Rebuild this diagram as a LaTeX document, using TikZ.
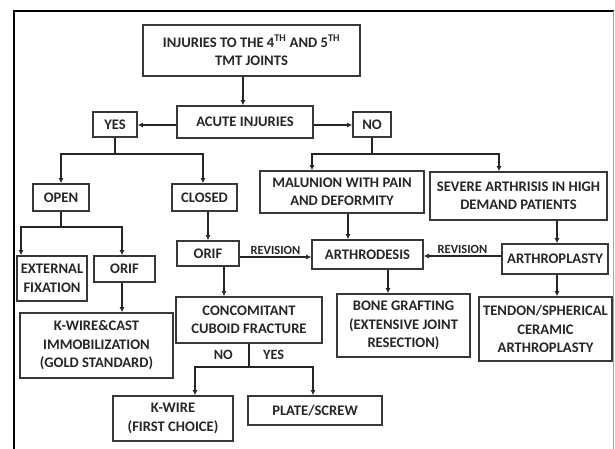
\documentclass[tikz,border=0pt]{standalone}
\usepackage{fontspec}
\setmainfont{Carlito}
\usetikzlibrary{arrows.meta}
\begin{document}
\begin{tikzpicture}[
        x=1pt, y=-1pt,
        boxn/.style={draw=black!78, line width=1.6pt, align=center, inner sep=0pt, text=black!85, font=\bfseries\fontsize{14.6}{18.5}\selectfont},
        labn/.style={text=black!85, inner sep=0pt, font=\bfseries\fontsize{14.2}{16}\selectfont},
        revn/.style={text=black!85, inner sep=2pt, font=\bfseries\fontsize{12.5}{14}\selectfont},
        arr/.style={draw=black!85, line width=1.5pt, -{Latex[length=5pt,width=5pt]}},
    ]
    \useasboundingbox (0,0) rectangle (615,449);
    % frame
    \draw[line width=2.5pt] (14,449) -- (14,11) -- (614,11);
    \draw[black!35, line width=0.8pt] (613,11) -- (613,449);

    \node[boxn, minimum width=217pt, minimum height=51pt](title) at (251.5,50.5) {INJURIES TO THE 4\textsuperscript{TH} AND 5\textsuperscript{TH}\\TMT JOINTS};
    \node[boxn, minimum width=136pt, minimum height=32pt](acute) at (245,122) {ACUTE INJURIES};
    \node[boxn, minimum width=44pt, minimum height=25pt](yes) at (115,124.5) {YES};
    \node[boxn, minimum width=38pt, minimum height=25pt](no) at (372,124.5) {NO};
    \node[boxn, minimum width=56pt, minimum height=27pt](open) at (61,197.5) {OPEN};
    \node[boxn, minimum width=65pt, minimum height=27pt](closed) at (204.5,197.5) {CLOSED};
    \node[boxn, minimum width=164pt, minimum height=42pt](malunion) at (342,192) {MALUNION WITH PAIN\\AND DEFORMITY};
    \node[boxn, minimum width=177pt, minimum height=48pt](severe) at (518.5,196) {SEVERE ARTHRISIS IN HIGH\\DEMAND PATIENTS};
    \node[boxn, minimum width=70pt, minimum height=45pt](extfix) at (52,278.5) {EXTERNAL\\FIXATION};
    \node[boxn, minimum width=61pt, minimum height=26pt](orifl) at (124.5,269) {ORIF};
    \node[boxn, minimum width=153pt, minimum height=65pt](kwirecast) at (96.5,345.5) {K-WIRE\&CAST\\IMMOBILIZATION\\(GOLD STANDARD)};
    \node[boxn, minimum width=62pt, minimum height=25pt](orifm) at (208,253.5) {ORIF};
    \node[boxn, minimum width=146pt, minimum height=46pt](concom) at (249,320) {CONCOMITANT\\CUBOID FRACTURE};
    \node[boxn, minimum width=111pt, minimum height=29pt](arthrodesis) at (367.5,254.5) {ARTHRODESIS};
    \node[boxn, minimum width=106pt, minimum height=30pt](arthroplasty) at (555,259) {ARTHROPLASTY};
    \node[boxn, minimum width=133pt, minimum height=63pt](bonegraft) at (403.5,325.5) {BONE GRAFTING\\(EXTENSIVE JOINT\\RESECTION)};
    \node[boxn, minimum width=133pt, minimum height=64pt](tendon) at (545.5,329) {TENDON/SPHERICAL\\CERAMIC\\ARTHROPLASTY};
    \node[boxn, minimum width=120pt, minimum height=45pt](kwire) at (173,418.5) {K-WIRE\\(FIRST CHOICE)};
    \node[boxn, minimum width=134pt, minimum height=29pt](plate) at (315,410.5) {PLATE/SCREW};

    % top of the tree
    \draw[arr] (title.south -| 243,0) -- (acute.north -| 243,0);
    \draw[arr] (acute.west |- 0,125) -- (yes.east |- 0,125);
    \draw[arr] (acute.east |- 0,125) -- (no.west |- 0,125);
    \draw[arr] (yes.south) -- ++(0,16) -| (open.north);
    \draw[arr] (yes.south) -- ++(0,16) -| ([xshift=-1.5pt]closed.north);
    \draw[arr] (no.south) -- ++(0,16) -| ([xshift=-30pt]malunion.north);
    \draw[arr] (no.south) -- ++(0,16) -| ([xshift=-19.5pt]severe.north);

    % acute side
    \draw[arr] (open.south) -- ++(0,15) -| ([xshift=-31pt]extfix.north);
    \draw[arr] (open.south) -- ++(0,15) -| ([xshift=-2.5pt]orifl.north);
    \draw[arr] ([xshift=-2.5pt]orifl.south) -- ([xshift=-2.5pt]orifl.south |- kwirecast.north);
    \draw[arr] (closed.south -| orifm) -- (orifm.north);
    \draw[arr] ([xshift=16pt]orifm.south) -- ([xshift=16pt]orifm.south |- concom.north);
    \draw[arr] (orifm.east |- 0,257) -- node[above, revn]{REVISION} (arthrodesis.west |- 0,257);
    \draw[arr] (concom.south) -- ++(0,23) -| ([xshift=22pt]kwire.north);
    \draw[arr] (concom.south) -- ++(0,23) -| ([xshift=-2pt]plate.north);
    \path (concom.south) -- ++(0,23) node[midway, left=16pt, labn]{NO} node[midway, right=14pt, labn]{YES};

    % chronic side
    \draw[arr] ([xshift=6pt]malunion.south) -- ([xshift=6pt]malunion.south |- arthrodesis.north);
    \draw[arr] (severe.south -| 557,0) -- (arthroplasty.north -| 557,0);
    \draw[arr] (arthroplasty.west |- 0,256) -- node[above, revn]{REVISION} (arthrodesis.east |- 0,256);
    \draw[arr] ([xshift=20.5pt]arthrodesis.south) -- ([xshift=20.5pt]arthrodesis.south |- bonegraft.north);
    \draw[arr] (arthroplasty.south -| 557,0) -- (tendon.north -| 557,0);
\end{tikzpicture}
\end{document}
